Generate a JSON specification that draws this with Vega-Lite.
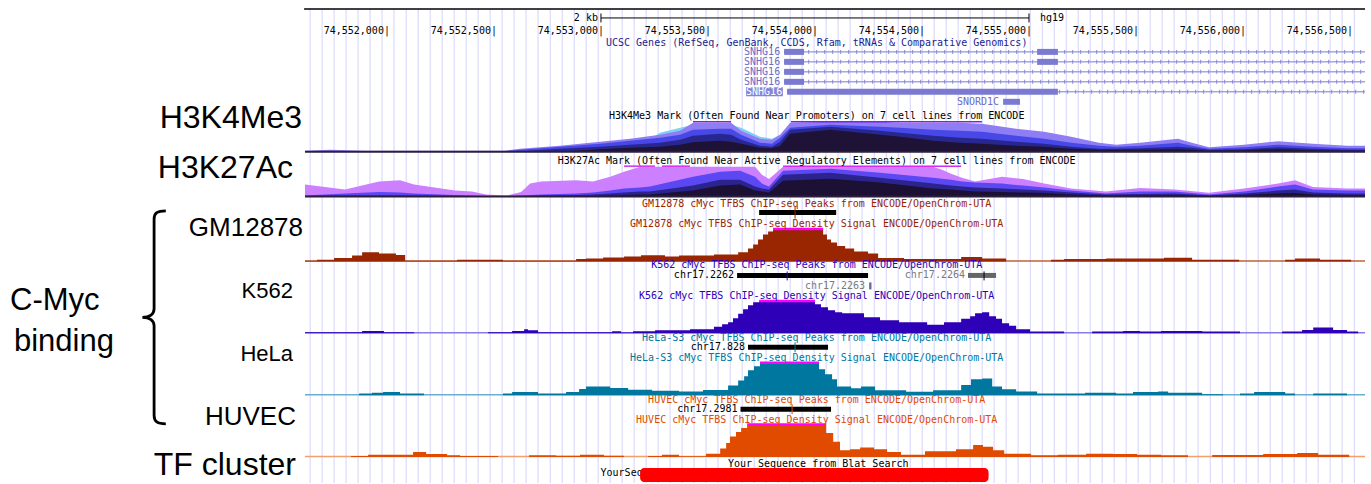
{
  "$schema": "https://vega.github.io/schema/vega-lite/v6.json",
  "width": 1371,
  "height": 484,
  "autosize": {"type": "fit", "contains": "padding"},
  "padding": 0,
  "background": "#ffffff",
  "config": {
    "view": {"stroke": null},
    "axis": {"disable": true},
    "text": {"font": "DejaVu Sans Mono", "fontSize": 10, "baseline": "middle"}
  },
  "data": {"values": [{}]},
  "datasets": {
    "guides": [
      {"pos":74551641},{"pos":74551697},{"pos":74551753},{"pos":74551809},{"pos":74551865},{"pos":74551921},{"pos":74551977},{"pos":74552033},{"pos":74552090},{"pos":74552146},
      {"pos":74552202},{"pos":74552258},{"pos":74552314},{"pos":74552370},{"pos":74552426},{"pos":74552482},{"pos":74552538},{"pos":74552594},{"pos":74552650},{"pos":74552706},
      {"pos":74552763},{"pos":74552819},{"pos":74552875},{"pos":74552931},{"pos":74552987},{"pos":74553043},{"pos":74553099},{"pos":74553155},{"pos":74553211},{"pos":74553267},
      {"pos":74553323},{"pos":74553379},{"pos":74553435},{"pos":74553491},{"pos":74553547},{"pos":74553604},{"pos":74553660},{"pos":74553716},{"pos":74553772},{"pos":74553828},
      {"pos":74553884},{"pos":74553940},{"pos":74553996},{"pos":74554052},{"pos":74554108},{"pos":74554164},{"pos":74554220},{"pos":74554277},{"pos":74554333},{"pos":74554389},
      {"pos":74554445},{"pos":74554501},{"pos":74554557},{"pos":74554613},{"pos":74554669},{"pos":74554725},{"pos":74554781},{"pos":74554837},{"pos":74554893},{"pos":74554949},
      {"pos":74555006},{"pos":74555062},{"pos":74555118},{"pos":74555174},{"pos":74555230},{"pos":74555286},{"pos":74555342},{"pos":74555398},{"pos":74555454},{"pos":74555510},
      {"pos":74555566},{"pos":74555622},{"pos":74555678},{"pos":74555734},{"pos":74555790},{"pos":74555847},{"pos":74555903},{"pos":74555959},{"pos":74556015},{"pos":74556071},
      {"pos":74556127},{"pos":74556183},{"pos":74556239},{"pos":74556295},{"pos":74556351},{"pos":74556407},{"pos":74556463},{"pos":74556520}
    ],
    "ruler": [
      {"pos":74552000,"label":"74,552,000|"},{"pos":74552500,"label":"74,552,500|"},{"pos":74553000,"label":"74,553,000|"},
      {"pos":74553500,"label":"74,553,500|"},{"pos":74554000,"label":"74,554,000|"},{"pos":74554500,"label":"74,554,500|"},
      {"pos":74555000,"label":"74,555,000|"},{"pos":74555500,"label":"74,555,500|"},{"pos":74556000,"label":"74,556,000|"},
      {"pos":74556500,"label":"74,556,500|"}
    ],
    "introns": [
      {"row":1,"start":74553856,"end":74556570},{"row":2,"start":74553856,"end":74556570},
      {"row":3,"start":74553856,"end":74556570},{"row":4,"start":74553856,"end":74556570},
      {"row":5,"start":74553870,"end":74556570}
    ],
    "exons": [
      {"row":1,"start":74553856,"end":74553949},{"row":1,"start":74555038,"end":74555135},
      {"row":2,"start":74553856,"end":74553949},{"row":2,"start":74555038,"end":74555135},
      {"row":3,"start":74553856,"end":74553949},{"row":4,"start":74553856,"end":74553949},
      {"row":5,"start":74553870,"end":74555135},{"row":6,"start":74554879,"end":74554958}
    ],
    "geneLabels": [
      {"row":1,"name":"SNHG16","pos":74553856},{"row":2,"name":"SNHG16","pos":74553856},
      {"row":3,"name":"SNHG16","pos":74553856},{"row":4,"name":"SNHG16","pos":74553856},
      {"row":6,"name":"SNORD1C","pos":74554879}
    ],
    "h3k4me3": [
      {"pos":74551617,"cyan":0,"l1":1,"l2":0.5,"l3":0,"l4":0},
      {"pos":74551734,"cyan":0,"l1":2,"l2":0.5,"l3":0,"l4":0},
      {"pos":74551897,"cyan":0,"l1":1,"l2":0.5,"l3":0,"l4":0},
      {"pos":74552551,"cyan":0,"l1":1,"l2":0.5,"l3":0,"l4":0},
      {"pos":74552622,"cyan":0,"l1":3,"l2":2,"l3":0.5,"l4":0},
      {"pos":74552809,"cyan":0,"l1":6,"l2":5,"l3":3,"l4":0},
      {"pos":74552996,"cyan":0,"l1":10,"l2":8,"l3":5,"l4":2.5},
      {"pos":74553136,"cyan":0,"l1":13,"l2":11,"l3":7,"l4":4},
      {"pos":74553276,"cyan":19,"l1":17,"l2":14,"l3":9,"l4":5},
      {"pos":74553370,"cyan":24,"l1":21,"l2":17,"l3":12,"l4":7},
      {"pos":74553430,"cyan":27,"l1":29,"l2":22,"l3":16,"l4":9.5},
      {"pos":74553557,"cyan":27,"l1":29,"l2":23,"l3":18,"l4":11},
      {"pos":74553608,"cyan":27,"l1":29,"l2":23,"l3":17,"l4":10},
      {"pos":74553655,"cyan":24,"l1":21,"l2":17,"l3":12,"l4":8},
      {"pos":74553743,"cyan":15,"l1":13,"l2":9,"l3":6,"l4":4},
      {"pos":74553799,"cyan":13,"l1":12,"l2":8,"l3":5,"l4":3.5},
      {"pos":74553837,"cyan":17,"l1":17,"l2":14,"l3":10,"l4":6},
      {"pos":74553884,"cyan":0,"l1":29,"l2":24,"l3":22,"l4":18},
      {"pos":74554071,"cyan":0,"l1":30,"l2":27,"l3":25,"l4":22},
      {"pos":74554304,"cyan":0,"l1":30,"l2":25,"l3":21,"l4":17},
      {"pos":74554398,"cyan":0,"l1":29,"l2":24,"l3":19,"l4":15},
      {"pos":74554552,"cyan":0,"l1":29,"l2":22,"l3":16,"l4":11},
      {"pos":74554678,"cyan":0,"l1":29,"l2":21,"l3":14,"l4":9},
      {"pos":74554780,"cyan":0,"l1":28,"l2":20,"l3":13,"l4":8},
      {"pos":74554940,"cyan":0,"l1":23,"l2":16,"l3":10,"l4":6},
      {"pos":74555071,"cyan":0,"l1":20,"l2":13,"l3":8,"l4":5},
      {"pos":74555197,"cyan":0,"l1":15,"l2":9,"l3":5,"l4":3},
      {"pos":74555327,"cyan":0,"l1":9,"l2":6,"l3":3,"l4":2},
      {"pos":74555407,"cyan":0,"l1":7,"l2":5,"l3":3,"l4":2},
      {"pos":74555519,"cyan":0,"l1":9,"l2":6,"l3":3.5,"l4":2},
      {"pos":74555696,"cyan":0,"l1":13,"l2":9,"l3":5,"l4":2.5},
      {"pos":74555761,"cyan":0,"l1":9,"l2":6,"l3":4,"l4":2},
      {"pos":74555841,"cyan":0,"l1":4.5,"l2":3,"l3":2,"l4":1},
      {"pos":74556005,"cyan":0,"l1":7,"l2":4.5,"l3":2.5,"l4":1.5},
      {"pos":74556164,"cyan":0,"l1":10.5,"l2":7,"l3":4.5,"l4":2.5},
      {"pos":74556327,"cyan":0,"l1":8,"l2":5,"l3":3,"l4":1.5},
      {"pos":74556486,"cyan":0,"l1":6,"l2":3.5,"l3":2,"l4":1},
      {"pos":74556570,"cyan":0,"l1":6,"l2":3.5,"l3":2,"l4":1}
    ],
    "h3k27ac": [
      {"pos":74551617,"l1":12,"l2":1,"l3":0.5,"l4":0},
      {"pos":74551804,"l1":7,"l2":3,"l3":1,"l4":0},
      {"pos":74551963,"l1":15,"l2":4.5,"l3":1,"l4":0},
      {"pos":74552061,"l1":16.5,"l2":4,"l3":1,"l4":0},
      {"pos":74552127,"l1":12,"l2":3,"l3":1,"l4":0},
      {"pos":74552318,"l1":6,"l2":1.5,"l3":0.5,"l4":0},
      {"pos":74552397,"l1":5,"l2":1,"l3":0.5,"l4":0},
      {"pos":74552463,"l1":2,"l2":0.5,"l3":0,"l4":0},
      {"pos":74552561,"l1":1,"l2":0.5,"l3":0,"l4":0},
      {"pos":74552627,"l1":4.5,"l2":1,"l3":0.5,"l4":0},
      {"pos":74552669,"l1":13,"l2":1.5,"l3":0.5,"l4":0},
      {"pos":74552720,"l1":15,"l2":2,"l3":1,"l4":0},
      {"pos":74552884,"l1":16.5,"l2":3,"l3":1.5,"l4":0.5},
      {"pos":74552963,"l1":15,"l2":4,"l3":2,"l4":0.5},
      {"pos":74553043,"l1":20,"l2":6,"l3":3,"l4":1},
      {"pos":74553108,"l1":25,"l2":8,"l3":4,"l4":1.5},
      {"pos":74553183,"l1":30,"l2":9,"l3":5,"l4":2},
      {"pos":74553229,"l1":30,"l2":10,"l3":5,"l4":2},
      {"pos":74553430,"l1":30,"l2":20,"l3":11,"l4":6},
      {"pos":74553557,"l1":30,"l2":25,"l3":17,"l4":11},
      {"pos":74553650,"l1":30,"l2":26,"l3":17,"l4":12},
      {"pos":74553720,"l1":30,"l2":20,"l3":10,"l4":6},
      {"pos":74553752,"l1":22,"l2":13,"l3":8,"l4":5},
      {"pos":74553785,"l1":17.6,"l2":10,"l3":7,"l4":4},
      {"pos":74553851,"l1":30,"l2":26,"l3":22,"l4":16},
      {"pos":74554071,"l1":30,"l2":28,"l3":24,"l4":18},
      {"pos":74554304,"l1":30,"l2":24,"l3":19,"l4":14},
      {"pos":74554552,"l1":30,"l2":19,"l3":13,"l4":8},
      {"pos":74554594,"l1":27,"l2":18,"l3":12,"l4":7.5},
      {"pos":74554636,"l1":23,"l2":17,"l3":11,"l4":7},
      {"pos":74554687,"l1":19,"l2":15,"l3":10,"l4":6},
      {"pos":74554748,"l1":15,"l2":14,"l3":9,"l4":5},
      {"pos":74554874,"l1":20,"l2":13,"l3":8,"l4":4.5},
      {"pos":74554972,"l1":17.6,"l2":11,"l3":7,"l4":4},
      {"pos":74555071,"l1":13,"l2":9,"l3":6,"l4":3.5},
      {"pos":74555197,"l1":8,"l2":6,"l3":4,"l4":2},
      {"pos":74555360,"l1":5,"l2":3,"l3":2,"l4":1},
      {"pos":74555519,"l1":8.6,"l2":5,"l3":2.5,"l4":1},
      {"pos":74555682,"l1":7.2,"l2":5,"l3":3,"l4":1.5},
      {"pos":74555841,"l1":3.8,"l2":2,"l3":1,"l4":0.5},
      {"pos":74556005,"l1":8,"l2":5,"l3":3,"l4":1.5},
      {"pos":74556164,"l1":13,"l2":10,"l3":6,"l4":3},
      {"pos":74556243,"l1":16.5,"l2":12,"l3":7,"l4":3.5},
      {"pos":74556327,"l1":9.7,"l2":7,"l3":4,"l4":2},
      {"pos":74556486,"l1":8,"l2":6,"l3":3,"l4":1.5},
      {"pos":74556570,"l1":8,"l2":6,"l3":3,"l4":1.5}
    ],
    "gm12878": [
      {"pos":74551617,"v":0.7},{"pos":74551673,"v":1.7},{"pos":74551753,"v":3.4},{"pos":74551837,"v":5.9},{"pos":74551884,"v":9.3},
      {"pos":74551963,"v":8},{"pos":74552042,"v":6.5},{"pos":74552085,"v":0.7},{"pos":74552328,"v":1.7},{"pos":74552542,"v":0.7},
      {"pos":74552884,"v":2.4},{"pos":74552930,"v":3},{"pos":74553010,"v":4},{"pos":74553108,"v":5},{"pos":74553187,"v":6.2},
      {"pos":74553299,"v":5},{"pos":74553365,"v":5.9},{"pos":74553528,"v":6.9},{"pos":74553641,"v":9.3},{"pos":74553687,"v":13},
      {"pos":74553711,"v":17},{"pos":74553734,"v":22},{"pos":74553757,"v":27},{"pos":74553781,"v":30},{"pos":74553804,"v":32},
      {"pos":74554038,"v":27},{"pos":74554056,"v":22},{"pos":74554075,"v":19},{"pos":74554103,"v":15.5},{"pos":74554141,"v":13},
      {"pos":74554183,"v":10},{"pos":74554248,"v":8},{"pos":74554295,"v":3.4},{"pos":74554416,"v":2.4},{"pos":74554683,"v":4.5},
      {"pos":74554781,"v":3},{"pos":74554893,"v":0},{"pos":74555103,"v":1.7},{"pos":74555164,"v":2.4},{"pos":74555360,"v":3},
      {"pos":74555631,"v":3.8},{"pos":74555762,"v":1.7},{"pos":74555982,"v":0},{"pos":74556197,"v":1.7},{"pos":74556243,"v":3},
      {"pos":74556360,"v":1.7},{"pos":74556505,"v":0},{"pos":74556570,"v":0}
    ],
    "k562": [
      {"pos":74551617,"v":1},{"pos":74551884,"v":2.4},{"pos":74551986,"v":1},{"pos":74552127,"v":0},{"pos":74552472,"v":1},
      {"pos":74552585,"v":2.4},{"pos":74552641,"v":4},{"pos":74552659,"v":3},{"pos":74552706,"v":1},{"pos":74553052,"v":2},
      {"pos":74553094,"v":0.7},{"pos":74553150,"v":2},{"pos":74553253,"v":3},{"pos":74553416,"v":4},{"pos":74553528,"v":6.5},
      {"pos":74553566,"v":9},{"pos":74553594,"v":11},{"pos":74553617,"v":15},{"pos":74553641,"v":19.7},{"pos":74553664,"v":24},
      {"pos":74553687,"v":28},{"pos":74553711,"v":31},{"pos":74553739,"v":32},{"pos":74554000,"v":29},{"pos":74554028,"v":26},
      {"pos":74554061,"v":23},{"pos":74554094,"v":21},{"pos":74554127,"v":20},{"pos":74554229,"v":16},{"pos":74554304,"v":13},
      {"pos":74554393,"v":11},{"pos":74554524,"v":8.6},{"pos":74554603,"v":11},{"pos":74554683,"v":14.5},{"pos":74554725,"v":17},
      {"pos":74554748,"v":20},{"pos":74554781,"v":21},{"pos":74554814,"v":17},{"pos":74554846,"v":14.5},{"pos":74554874,"v":10},
      {"pos":74554907,"v":7.6},{"pos":74554940,"v":4},{"pos":74555005,"v":1.7},{"pos":74555164,"v":0},{"pos":74555295,"v":1.7},
      {"pos":74555440,"v":2.4},{"pos":74555519,"v":1.7},{"pos":74555617,"v":2.4},{"pos":74555809,"v":1.7},{"pos":74555986,"v":0},
      {"pos":74556183,"v":1.7},{"pos":74556276,"v":3.4},{"pos":74556328,"v":5.9},{"pos":74556421,"v":3.4},{"pos":74556486,"v":1.7},
      {"pos":74556538,"v":0},{"pos":74556570,"v":0}
    ],
    "hela": [
      {"pos":74551617,"v":0},{"pos":74551870,"v":1.7},{"pos":74551930,"v":2.4},{"pos":74551982,"v":3.1},{"pos":74552061,"v":1.7},
      {"pos":74552173,"v":0},{"pos":74552542,"v":1.7},{"pos":74552585,"v":3.1},{"pos":74552706,"v":1.7},{"pos":74552837,"v":3.1},
      {"pos":74552898,"v":6.2},{"pos":74552930,"v":8.6},{"pos":74553043,"v":7.2},{"pos":74553127,"v":5.5},{"pos":74553239,"v":4.5},
      {"pos":74553365,"v":3.8},{"pos":74553477,"v":5.2},{"pos":74553594,"v":9.7},{"pos":74553641,"v":14.8},{"pos":74553669,"v":19},
      {"pos":74553687,"v":25},{"pos":74553715,"v":29},{"pos":74553743,"v":32},{"pos":74554019,"v":26},{"pos":74554047,"v":21},
      {"pos":74554080,"v":16},{"pos":74554103,"v":8.6},{"pos":74554169,"v":6.9},{"pos":74554215,"v":8.6},{"pos":74554281,"v":5},
      {"pos":74554426,"v":3.4},{"pos":74554552,"v":5},{"pos":74554683,"v":10.3},{"pos":74554729,"v":15.9},{"pos":74554781,"v":16.6},
      {"pos":74554828,"v":8.6},{"pos":74554874,"v":5.9},{"pos":74554940,"v":3.8},{"pos":74555038,"v":1.7},{"pos":74555262,"v":2.4},
      {"pos":74555407,"v":1.7},{"pos":74555486,"v":3.1},{"pos":74555603,"v":3.8},{"pos":74555650,"v":2.4},{"pos":74555809,"v":1},
      {"pos":74555907,"v":0},{"pos":74555986,"v":1.7},{"pos":74556052,"v":3.1},{"pos":74556197,"v":1.7},{"pos":74556243,"v":0},
      {"pos":74556328,"v":1.7},{"pos":74556486,"v":0},{"pos":74556570,"v":0}
    ],
    "huvec": [
      {"pos":74551617,"v":0},{"pos":74551832,"v":1},{"pos":74551912,"v":2.4},{"pos":74552122,"v":5.1},{"pos":74552183,"v":3.1},
      {"pos":74552281,"v":1.7},{"pos":74552342,"v":1},{"pos":74552519,"v":0},{"pos":74552664,"v":1.7},{"pos":74552790,"v":1.4},
      {"pos":74552902,"v":2.4},{"pos":74553014,"v":1.4},{"pos":74553108,"v":0},{"pos":74553220,"v":1},{"pos":74553285,"v":2.4},
      {"pos":74553365,"v":0.7},{"pos":74553491,"v":3.4},{"pos":74553557,"v":8.6},{"pos":74553585,"v":14},{"pos":74553603,"v":20.5},
      {"pos":74553631,"v":25},{"pos":74553655,"v":29},{"pos":74553683,"v":32},{"pos":74554052,"v":24},{"pos":74554085,"v":15.4},
      {"pos":74554117,"v":6.8},{"pos":74554164,"v":7.9},{"pos":74554211,"v":9.6},{"pos":74554276,"v":7.9},{"pos":74554337,"v":5.1},
      {"pos":74554402,"v":2.4},{"pos":74554514,"v":5.8},{"pos":74554659,"v":7.9},{"pos":74554739,"v":12},{"pos":74554785,"v":10.3},
      {"pos":74554832,"v":6.8},{"pos":74554884,"v":3.4},{"pos":74555010,"v":1.7},{"pos":74555136,"v":2.4},{"pos":74555267,"v":3.4},
      {"pos":74555393,"v":3.1},{"pos":74555505,"v":2.4},{"pos":74555617,"v":1.7},{"pos":74555743,"v":0},{"pos":74555856,"v":2},
      {"pos":74556094,"v":3.1},{"pos":74556253,"v":4.1},{"pos":74556351,"v":2.4},{"pos":74556496,"v":0},{"pos":74556570,"v":0}
    ],
    "peaks": [
      {"cell":"GM12878","name":"chr17.gm","start":74553739,"end":74554099,"summit":74553907},
      {"cell":"K562","name":"chr17.2262","start":74553636,"end":74554248,"summit":74553870},
      {"cell":"K562","name":"chr17.2263","start":74554253,"end":74554264,"summit":74554258},
      {"cell":"K562","name":"chr17.2264","start":74554715,"end":74554846,"summit":74554790},
      {"cell":"HeLa-S3","name":"chr17.828","start":74553687,"end":74554061,"summit":74553907},
      {"cell":"HUVEC","name":"chr17.2981","start":74553652,"end":74554075,"summit":74553893}
    ]
  },
  "layer": [
    {
      "layer": [
        {"data": {"name": "guides"}, "mark": {"type": "rule", "color": "#d3d3fa", "strokeWidth": 1},
         "encoding": {"x": {"field": "pos", "type": "quantitative", "scale": {"domain": [74550192, 74556598], "nice": false, "zero": false}},
                      "y": {"datum": -3.3, "scale": {"domain": [-4.2, 44.2], "reverse": true, "nice": false, "zero": false}},
                      "y2": {"datum": 44.2}}},
        {"mark": {"type": "rule", "color": "#000000", "strokeWidth": 1.5},
         "encoding": {"x": {"datum": 74551613}, "x2": {"datum": 74556570}, "y": {"datum": -3.3}}},
        {"mark": {"type": "rule", "color": "#000000", "strokeWidth": 1},
         "encoding": {"x": {"datum": 74553000}, "x2": {"datum": 74555000}, "y": {"datum": -2.4}}},
        {"data": {"values": [{"pos": 74553000}, {"pos": 74555000}]}, "mark": {"type": "rule", "color": "#000000", "strokeWidth": 1},
         "encoding": {"x": {"field": "pos", "type": "quantitative"}, "y": {"datum": -2.85}, "y2": {"datum": -1.95}}},
        {"mark": {"type": "text", "align": "right", "dx": -3, "color": "#000000"},
         "encoding": {"x": {"datum": 74553000}, "y": {"datum": -2.4}, "text": {"value": "2 kb"}}},
        {"mark": {"type": "text", "align": "left", "color": "#000000"},
         "encoding": {"x": {"datum": 74555051}, "y": {"datum": -2.4}, "text": {"value": "hg19"}}},
        {"data": {"name": "ruler"}, "mark": {"type": "text", "align": "right", "dx": 3, "color": "#000000"},
         "encoding": {"x": {"field": "pos", "type": "quantitative"}, "y": {"datum": -1.1}, "text": {"field": "label"}}},
        {"mark": {"type": "text", "align": "center", "color": "#1c1c90"},
         "encoding": {"x": {"datum": 74554008}, "y": {"datum": 0.15}, "text": {"value": "UCSC Genes (RefSeq, GenBank, CCDS, Rfam, tRNAs & Comparative Genomics)"}}},
        {"data": {"name": "introns"}, "mark": {"type": "rule", "color": "#7a7ad2", "strokeWidth": 1},
         "encoding": {"x": {"field": "start", "type": "quantitative"}, "x2": {"field": "end"}, "y": {"field": "row", "type": "quantitative"}}},
        {"data": {"name": "introns"}, "mark": {"type": "rule", "color": "#8a8ad8", "strokeWidth": 4, "strokeDash": [1, 7]},
         "encoding": {"x": {"field": "start", "type": "quantitative"}, "x2": {"field": "end"}, "y": {"field": "row", "type": "quantitative"}}},
        {"data": {"name": "exons"}, "mark": {"type": "rule", "color": "#7a7ad2", "strokeWidth": 6},
         "encoding": {"x": {"field": "start", "type": "quantitative"}, "x2": {"field": "end"}, "y": {"field": "row", "type": "quantitative"}}},
        {"data": {"name": "geneLabels"}, "mark": {"type": "text", "align": "right", "dx": -4, "color": "#6c6cc8"},
         "encoding": {"x": {"field": "pos", "type": "quantitative"}, "y": {"field": "row", "type": "quantitative"}, "text": {"field": "name"}}},
        {"mark": {"type": "rect", "color": "#8585d8"},
         "encoding": {"x": {"datum": 74553678}, "x2": {"datum": 74553850}, "y": {"datum": 4.55}, "y2": {"datum": 5.45}}},
        {"mark": {"type": "text", "align": "right", "dx": -5, "color": "#ffffff"},
         "encoding": {"x": {"datum": 74553870}, "y": {"datum": 5}, "text": {"value": "SNHG16"}}}
      ]
    },
    {
      "layer": [
        {"data": {"name": "h3k4me3"}, "mark": {"type": "area", "color": "#7fd0f4"},
         "encoding": {"x": {"field": "pos", "type": "quantitative"},
                      "y": {"field": "cyan", "type": "quantitative", "scale": {"domain": [-332, 152], "nice": false, "zero": false}},
                      "y2": {"datum": 0}}},
        {"data": {"name": "h3k4me3"}, "mark": {"type": "area", "color": "#8f7df4"},
         "encoding": {"x": {"field": "pos", "type": "quantitative"}, "y": {"field": "l1", "type": "quantitative"}, "y2": {"datum": 0}}},
        {"data": {"name": "h3k4me3"}, "mark": {"type": "area", "color": "#4848e8"},
         "encoding": {"x": {"field": "pos", "type": "quantitative"}, "y": {"field": "l2", "type": "quantitative"}, "y2": {"datum": 0}}},
        {"data": {"name": "h3k4me3"}, "mark": {"type": "area", "color": "#27278f"},
         "encoding": {"x": {"field": "pos", "type": "quantitative"}, "y": {"field": "l3", "type": "quantitative"}, "y2": {"datum": 0}}},
        {"data": {"name": "h3k4me3"}, "mark": {"type": "area", "color": "#1e1236"},
         "encoding": {"x": {"field": "pos", "type": "quantitative"}, "y": {"field": "l4", "type": "quantitative"}, "y2": {"datum": 0}}},
        {"data": {"values": [{"start": 74553430, "end": 74553608}, {"start": 74553888, "end": 74554780}]},
         "mark": {"type": "rule", "color": "#7e22e6", "strokeWidth": 1.5},
         "encoding": {"x": {"field": "start", "type": "quantitative"}, "x2": {"field": "end"}, "y": {"datum": 30}}},
        {"mark": {"type": "rule", "color": "#2b1f3d", "strokeWidth": 2},
         "encoding": {"x": {"datum": 74551617}, "x2": {"datum": 74556570}, "y": {"datum": 0}}},
        {"mark": {"type": "text", "align": "center", "color": "#000000"},
         "encoding": {"x": {"datum": 74554008}, "y": {"datum": 36}, "text": {"value": "H3K4Me3 Mark (Often Found Near Promoters) on 7 cell lines from ENCODE"}}},
        {"mark": {"type": "text", "align": "right", "font": "Liberation Sans", "fontSize": 32, "color": "#000000"},
         "encoding": {"x": {"datum": 74551603}, "y": {"datum": 34}, "text": {"value": "H3K4Me3"}}}
      ]
    },
    {
      "layer": [
        {"data": {"name": "h3k27ac"}, "mark": {"type": "area", "color": "#cc80ff"},
         "encoding": {"x": {"field": "pos", "type": "quantitative"},
                      "y": {"field": "l1", "type": "quantitative", "scale": {"domain": [-287, 197], "nice": false, "zero": false}},
                      "y2": {"datum": 0}}},
        {"data": {"name": "h3k27ac"}, "mark": {"type": "area", "color": "#5b48f2"},
         "encoding": {"x": {"field": "pos", "type": "quantitative"}, "y": {"field": "l2", "type": "quantitative"}, "y2": {"datum": 0}}},
        {"data": {"name": "h3k27ac"}, "mark": {"type": "area", "color": "#2a248c"},
         "encoding": {"x": {"field": "pos", "type": "quantitative"}, "y": {"field": "l3", "type": "quantitative"}, "y2": {"datum": 0}}},
        {"data": {"name": "h3k27ac"}, "mark": {"type": "area", "color": "#1d1035"},
         "encoding": {"x": {"field": "pos", "type": "quantitative"}, "y": {"field": "l4", "type": "quantitative"}, "y2": {"datum": 0}}},
        {"data": {"values": [{"start": 74553108, "end": 74553252}, {"start": 74553285, "end": 74553416}, {"start": 74553851, "end": 74554683}]},
         "mark": {"type": "rule", "color": "#d22cf5", "strokeWidth": 1.5},
         "encoding": {"x": {"field": "start", "type": "quantitative"}, "x2": {"field": "end"}, "y": {"datum": 30.5}}},
        {"mark": {"type": "rule", "color": "#2b1f3d", "strokeWidth": 2},
         "encoding": {"x": {"datum": 74551617}, "x2": {"datum": 74556570}, "y": {"datum": 0}}},
        {"mark": {"type": "text", "align": "center", "color": "#000000"},
         "encoding": {"x": {"datum": 74554008}, "y": {"datum": 36}, "text": {"value": "H3K27Ac Mark (Often Found Near Active Regulatory Elements) on 7 cell lines from ENCODE"}}},
        {"mark": {"type": "text", "align": "right", "font": "Liberation Sans", "fontSize": 32, "color": "#000000"},
         "encoding": {"x": {"datum": 74551561}, "y": {"datum": 29}, "text": {"value": "H3K27Ac"}}}
      ]
    },
    {
      "layer": [
        {"mark": {"type": "rule", "color": "#c0603a", "strokeWidth": 1.5},
         "encoding": {"x": {"datum": 74551617}, "x2": {"datum": 74556570},
                      "y": {"datum": 0.5, "scale": {"domain": [-222, 262], "nice": false, "zero": false}}}},
        {"data": {"name": "gm12878"}, "mark": {"type": "area", "color": "#992600", "interpolate": "step-after"},
         "encoding": {"x": {"field": "pos", "type": "quantitative"}, "y": {"field": "v", "type": "quantitative"}, "y2": {"datum": 0}}},
        {"mark": {"type": "rule", "color": "#ff00ff", "strokeWidth": 2.5},
         "encoding": {"x": {"datum": 74553804}, "x2": {"datum": 74554038}, "y": {"datum": 32.5}}},
        {"data": {"name": "peaks"}, "transform": [{"filter": "datum.cell == 'GM12878'"}],
         "mark": {"type": "rule", "color": "#000000", "strokeWidth": 5},
         "encoding": {"x": {"field": "start", "type": "quantitative"}, "x2": {"field": "end"}, "y": {"datum": 49}}},
        {"data": {"name": "peaks"}, "transform": [{"filter": "datum.cell == 'GM12878'"}],
         "mark": {"type": "rule", "color": "#992600", "strokeWidth": 1},
         "encoding": {"x": {"field": "summit", "type": "quantitative"}, "y": {"datum": 55}, "y2": {"datum": 43}}},
        {"mark": {"type": "text", "align": "center", "color": "#992600"},
         "encoding": {"x": {"datum": 74554008}, "y": {"datum": 58}, "text": {"value": "GM12878 cMyc TFBS ChIP-seq Peaks from ENCODE/OpenChrom-UTA"}}},
        {"mark": {"type": "text", "align": "center", "color": "#992600"},
         "encoding": {"x": {"datum": 74554008}, "y": {"datum": 38}, "text": {"value": "GM12878 cMyc TFBS ChIP-seq Density Signal ENCODE/OpenChrom-UTA"}}},
        {"mark": {"type": "text", "align": "right", "font": "Liberation Sans", "fontSize": 26, "color": "#000000"},
         "encoding": {"x": {"datum": 74551608}, "y": {"datum": 34}, "text": {"value": "GM12878"}}}
      ]
    },
    {
      "layer": [
        {"mark": {"type": "rule", "color": "#8a7ce6", "strokeWidth": 1.5},
         "encoding": {"x": {"datum": 74551617}, "x2": {"datum": 74556570},
                      "y": {"datum": 0.5, "scale": {"domain": [-150, 334], "nice": false, "zero": false}}}},
        {"data": {"name": "k562"}, "mark": {"type": "area", "color": "#2e00b8", "interpolate": "step-after"},
         "encoding": {"x": {"field": "pos", "type": "quantitative"}, "y": {"field": "v", "type": "quantitative"}, "y2": {"datum": 0}}},
        {"mark": {"type": "rule", "color": "#ff00ff", "strokeWidth": 2.5},
         "encoding": {"x": {"datum": 74553739}, "x2": {"datum": 74554000}, "y": {"datum": 32.5}}},
        {"data": {"name": "peaks"}, "transform": [{"filter": "datum.name == 'chr17.2262'"}],
         "mark": {"type": "rule", "color": "#000000", "strokeWidth": 5},
         "encoding": {"x": {"field": "start", "type": "quantitative"}, "x2": {"field": "end"}, "y": {"datum": 58}}},
        {"data": {"name": "peaks"}, "transform": [{"filter": "datum.name == 'chr17.2262'"}],
         "mark": {"type": "rule", "color": "#2e00b8", "strokeWidth": 1},
         "encoding": {"x": {"field": "summit", "type": "quantitative"}, "y": {"datum": 62}, "y2": {"datum": 53}}},
        {"data": {"name": "peaks"}, "transform": [{"filter": "datum.name == 'chr17.2262'"}],
         "mark": {"type": "text", "align": "right", "dx": -3, "color": "#000000"},
         "encoding": {"x": {"field": "start", "type": "quantitative"}, "y": {"datum": 58}, "text": {"field": "name"}}},
        {"data": {"name": "peaks"}, "transform": [{"filter": "datum.name == 'chr17.2264'"}],
         "mark": {"type": "rule", "color": "#666666", "strokeWidth": 5},
         "encoding": {"x": {"field": "start", "type": "quantitative"}, "x2": {"field": "end"}, "y": {"datum": 58}}},
        {"data": {"name": "peaks"}, "transform": [{"filter": "datum.name == 'chr17.2264'"}],
         "mark": {"type": "rule", "color": "#000000", "strokeWidth": 1},
         "encoding": {"x": {"field": "summit", "type": "quantitative"}, "y": {"datum": 62}, "y2": {"datum": 53}}},
        {"data": {"name": "peaks"}, "transform": [{"filter": "datum.name == 'chr17.2264'"}],
         "mark": {"type": "text", "align": "right", "dx": -3, "color": "#7a7a7a"},
         "encoding": {"x": {"field": "start", "type": "quantitative"}, "y": {"datum": 58}, "text": {"field": "name"}}},
        {"data": {"name": "peaks"}, "transform": [{"filter": "datum.name == 'chr17.2263'"}],
         "mark": {"type": "rect", "color": "#6a6a9a"},
         "encoding": {"x": {"field": "start", "type": "quantitative"}, "x2": {"field": "end"}, "y": {"datum": 51}, "y2": {"datum": 44}}},
        {"data": {"name": "peaks"}, "transform": [{"filter": "datum.name == 'chr17.2263'"}],
         "mark": {"type": "text", "align": "right", "dx": -4, "color": "#7a7a7a"},
         "encoding": {"x": {"field": "start", "type": "quantitative"}, "y": {"datum": 47.5}, "text": {"field": "name"}}},
        {"mark": {"type": "text", "align": "center", "color": "#2e00b8"},
         "encoding": {"x": {"datum": 74554008}, "y": {"datum": 68}, "text": {"value": "K562 cMyc TFBS ChIP-seq Peaks from ENCODE/OpenChrom-UTA"}}},
        {"mark": {"type": "text", "align": "center", "color": "#2e00b8"},
         "encoding": {"x": {"datum": 74554008}, "y": {"datum": 37}, "text": {"value": "K562 cMyc TFBS ChIP-seq Density Signal ENCODE/OpenChrom-UTA"}}},
        {"mark": {"type": "text", "align": "right", "font": "Liberation Sans", "fontSize": 22, "color": "#000000"},
         "encoding": {"x": {"datum": 74551561}, "y": {"datum": 42}, "text": {"value": "K562"}}},
        {"mark": {"type": "text", "align": "left", "font": "Liberation Sans", "fontSize": 31, "color": "#000000"},
         "encoding": {"x": {"datum": 74550239}, "y": {"datum": 32}, "text": {"value": "C-Myc"}}},
        {"mark": {"type": "text", "align": "left", "font": "Liberation Sans", "fontSize": 31, "color": "#000000"},
         "encoding": {"x": {"datum": 74550257}, "y": {"datum": -9}, "text": {"value": "binding"}}},
        {"mark": {"type": "point", "shape": "M0.11,-1C0.03,-1 0,-0.98 0,-0.92L0,-0.08C0,-0.03 -0.04,0 -0.11,0C-0.04,0 0,0.03 0,0.08L0,0.92C0,0.98 0.03,1 0.11,1",
                  "size": 45369, "filled": false, "color": "#000000", "strokeWidth": 2.8, "opacity": 1},
         "encoding": {"x": {"datum": 74550912}, "y": {"datum": 16}}}
      ]
    },
    {
      "layer": [
        {"mark": {"type": "rule", "color": "#6aaed0", "strokeWidth": 1.5},
         "encoding": {"x": {"datum": 74551617}, "x2": {"datum": 74556570},
                      "y": {"datum": 0.5, "scale": {"domain": [-88, 396], "nice": false, "zero": false}}}},
        {"data": {"name": "hela"}, "mark": {"type": "area", "color": "#00779e", "interpolate": "step-after"},
         "encoding": {"x": {"field": "pos", "type": "quantitative"}, "y": {"field": "v", "type": "quantitative"}, "y2": {"datum": 0}}},
        {"mark": {"type": "rule", "color": "#ff00ff", "strokeWidth": 2.5},
         "encoding": {"x": {"datum": 74553743}, "x2": {"datum": 74554019}, "y": {"datum": 32.5}}},
        {"data": {"name": "peaks"}, "transform": [{"filter": "datum.cell == 'HeLa-S3'"}],
         "mark": {"type": "rule", "color": "#000000", "strokeWidth": 5},
         "encoding": {"x": {"field": "start", "type": "quantitative"}, "x2": {"field": "end"}, "y": {"datum": 48}}},
        {"data": {"name": "peaks"}, "transform": [{"filter": "datum.cell == 'HeLa-S3'"}],
         "mark": {"type": "rule", "color": "#00779e", "strokeWidth": 1},
         "encoding": {"x": {"field": "summit", "type": "quantitative"}, "y": {"datum": 53}, "y2": {"datum": 43}}},
        {"data": {"name": "peaks"}, "transform": [{"filter": "datum.cell == 'HeLa-S3'"}],
         "mark": {"type": "text", "align": "right", "dx": -3, "color": "#000000"},
         "encoding": {"x": {"field": "start", "type": "quantitative"}, "y": {"datum": 48}, "text": {"field": "name"}}},
        {"mark": {"type": "text", "align": "center", "color": "#00779e"},
         "encoding": {"x": {"datum": 74554008}, "y": {"datum": 57}, "text": {"value": "HeLa-S3 cMyc TFBS ChIP-seq Peaks from ENCODE/OpenChrom-UTA"}}},
        {"mark": {"type": "text", "align": "center", "color": "#00779e"},
         "encoding": {"x": {"datum": 74554008}, "y": {"datum": 37}, "text": {"value": "HeLa-S3 cMyc TFBS ChIP-seq Density Signal ENCODE/OpenChrom-UTA"}}},
        {"mark": {"type": "text", "align": "right", "font": "Liberation Sans", "fontSize": 22, "color": "#000000"},
         "encoding": {"x": {"datum": 74551561}, "y": {"datum": 41}, "text": {"value": "HeLa"}}}
      ]
    },
    {
      "layer": [
        {"mark": {"type": "rule", "color": "#f2a070", "strokeWidth": 1.5},
         "encoding": {"x": {"datum": 74551617}, "x2": {"datum": 74556570},
                      "y": {"datum": 0.5, "scale": {"domain": [-26, 458], "nice": false, "zero": false}}}},
        {"data": {"name": "huvec"}, "mark": {"type": "area", "color": "#e04b00", "interpolate": "step-after"},
         "encoding": {"x": {"field": "pos", "type": "quantitative"}, "y": {"field": "v", "type": "quantitative"}, "y2": {"datum": 0}}},
        {"mark": {"type": "rule", "color": "#ff00ff", "strokeWidth": 2.5},
         "encoding": {"x": {"datum": 74553683}, "x2": {"datum": 74554052}, "y": {"datum": 32.5}}},
        {"data": {"name": "peaks"}, "transform": [{"filter": "datum.cell == 'HUVEC'"}],
         "mark": {"type": "rule", "color": "#000000", "strokeWidth": 5},
         "encoding": {"x": {"field": "start", "type": "quantitative"}, "x2": {"field": "end"}, "y": {"datum": 48}}},
        {"data": {"name": "peaks"}, "transform": [{"filter": "datum.cell == 'HUVEC'"}],
         "mark": {"type": "rule", "color": "#e04b00", "strokeWidth": 1},
         "encoding": {"x": {"field": "summit", "type": "quantitative"}, "y": {"datum": 53}, "y2": {"datum": 43}}},
        {"data": {"name": "peaks"}, "transform": [{"filter": "datum.cell == 'HUVEC'"}],
         "mark": {"type": "text", "align": "right", "dx": -3, "color": "#000000"},
         "encoding": {"x": {"field": "start", "type": "quantitative"}, "y": {"datum": 48}, "text": {"field": "name"}}},
        {"mark": {"type": "text", "align": "center", "color": "#e04b00"},
         "encoding": {"x": {"datum": 74554008}, "y": {"datum": 57}, "text": {"value": "HUVEC cMyc TFBS ChIP-seq Peaks from ENCODE/OpenChrom-UTA"}}},
        {"mark": {"type": "text", "align": "center", "color": "#e04b00"},
         "encoding": {"x": {"datum": 74554008}, "y": {"datum": 37}, "text": {"value": "HUVEC cMyc TFBS ChIP-seq Density Signal ENCODE/OpenChrom-UTA"}}},
        {"mark": {"type": "text", "align": "right", "font": "Liberation Sans", "fontSize": 26, "color": "#000000"},
         "encoding": {"x": {"datum": 74551575}, "y": {"datum": 40}, "text": {"value": "HUVEC"}}},
        {"mark": {"type": "text", "align": "right", "font": "Liberation Sans", "fontSize": 32, "color": "#000000"},
         "encoding": {"x": {"datum": 74551575}, "y": {"datum": -8}, "text": {"value": "TF cluster"}}},
        {"mark": {"type": "text", "align": "center", "color": "#000000"},
         "encoding": {"x": {"datum": 74554015}, "y": {"datum": -7}, "text": {"value": "Your Sequence from Blat Search"}}},
        {"mark": {"type": "text", "align": "right", "color": "#000000"},
         "encoding": {"x": {"datum": 74553195}, "y": {"datum": -16}, "text": {"value": "YourSeq"}}},
        {"mark": {"type": "rect", "color": "#ff0000", "cornerRadius": 4},
         "encoding": {"x": {"datum": 74553183}, "x2": {"datum": 74554811}, "y": {"datum": -11}, "y2": {"datum": -25}}}
      ]
    }
  ],
  "resolve": {"scale": {"y": "independent"}}
}
